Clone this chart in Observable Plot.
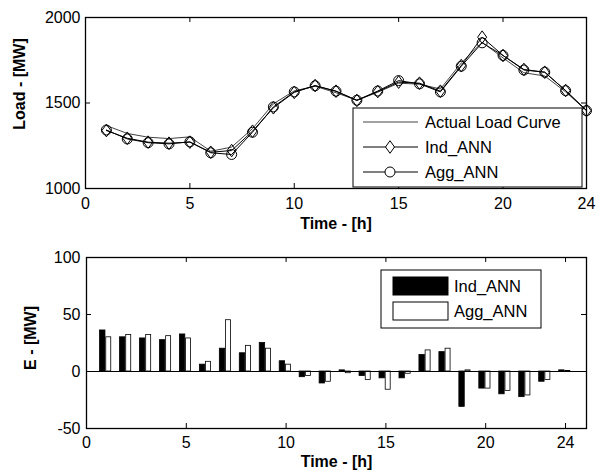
<!DOCTYPE html>
<html><head><meta charset="utf-8">
<script src="https://cdn.jsdelivr.net/npm/d3@7"></script>
<script src="https://cdn.jsdelivr.net/npm/@observablehq/plot@0.6"></script>
<style>
body{margin:0;background:#fff;}
#chart{width:601px;height:475px;}
#chart svg{display:block;overflow:visible;}
</style></head><body><div id="chart"></div>
<script>
const hours   = [1,2,3,4,5,6,7,8,9,10,11,12,13,14,15,16,17,18,19,20,21,22,23,24];
const actual  = [1368,1322,1300,1292,1302,1218,1242,1350,1495,1571,1598,1560,1516,1563,1616,1610,1582,1734,1855,1764,1677,1658,1565,1456];
const indANN  = [1339,1294,1271,1265,1271,1212,1222,1335,1472,1562,1602,1569,1515,1567,1622,1616,1569,1719,1885,1778,1696,1680,1573,1456];
const aggANN  = [1342,1290,1268,1261,1273,1209,1199,1329,1477,1565,1601,1569,1516,1570,1631,1612,1565,1715,1852,1778,1693,1680,1572,1455];
const errInd  = [36,30,29,27.5,32.5,6,20,16,25,9,-5,-10.5,1,-4,-6,-6,14.5,17,-31,-15,-20,-22.5,-9,1];
const errAgg  = [30,32,32,31,29,8.5,45,22.5,20,6,-4,-9,-1.5,-7.5,-16,-2,18.5,20,1,-15,-17,-21,-7.5,0.5];
const xTicksTop = [0,5,10,15,20,24];
const xTicksBot = [0,5,10,15,20,24];
const yTicksTop = [1000,1500,2000];
const yTicksBot = [-50,0,50,100];
const legendTop = ["Actual Load Curve","Ind_ANN","Agg_ANN"];
const legendBot = ["Ind_ANN","Agg_ANN"];

const rows = hours.map((h,i)=>({hour:h, actual:actual[i], ind:indANN[i], agg:aggANN[i], eInd:errInd[i], eAgg:errAgg[i]}));

const FONT = "'Liberation Sans', Arial, sans-serif";
const FS = 16;
const LFS = 16.5;
const tallDiamond = {draw(ctx, size){ const r = Math.sqrt(size/Math.PI); ctx.moveTo(0,-1.4*r); ctx.lineTo(r,0); ctx.lineTo(0,1.4*r); ctx.lineTo(-r,0); ctx.closePath(); }};

// ---- top chart
const TW = 601, TH = 237, tT = 17, tB = 49, tL = 85, tR = 15;
const tfh = TH - tT - tB, tfw = TW - tL - tR;
const topPlot = Plot.plot({
  width: TW, height: TH, marginTop: tT, marginBottom: tB, marginLeft: tL, marginRight: tR,
  style: {fontFamily: FONT, fontSize: FS + "px", color: "black", background: "white", overflow: "visible"},
  x: {domain: [0,24], label: null},
  y: {domain: [1000,2000], label: null},
  marks: [
    Plot.axisX(xTicksTop, {tickSize: 0, tickPadding: 9, fontSize: FS, label: null, tickFormat: d => String(d)}),
    Plot.axisY(yTicksTop, {tickSize: 0, tickPadding: 5, fontSize: FS, label: null, tickFormat: d => String(d)}),
    Plot.tickX(xTicksTop, {x: d=>d, insetTop: tfh-5, stroke: "black"}),
    Plot.tickX(xTicksTop, {x: d=>d, insetBottom: tfh-5, stroke: "black"}),
    Plot.tickY(yTicksTop, {y: d=>d, insetRight: tfw-5, stroke: "black"}),
    Plot.tickY(yTicksTop, {y: d=>d, insetLeft: tfw-5, stroke: "black"}),
    Plot.line(rows, {x: "hour", y: "actual", stroke: "#444", strokeWidth: 1}),
    Plot.line(rows, {x: "hour", y: "ind", stroke: "black", strokeWidth: 1}),
    Plot.line(rows, {x: "hour", y: "agg", stroke: "black", strokeWidth: 1}),
    Plot.dot(rows, {x: "hour", y: "ind", symbol: tallDiamond, r: 4.5, stroke: "black", fill: "none", strokeWidth: 1}),
    Plot.dot(rows, {x: "hour", y: "agg", symbol: "circle", r: 5, stroke: "black", fill: "none", strokeWidth: 1}),
    Plot.frame({stroke: "black", strokeWidth: 1.3}),
    Plot.text(["Time - [h]"], {text: d=>d, frameAnchor: "bottom", dy: 40, fontWeight: "bold", fontSize: FS}),
    Plot.text(["Load - [MW]"], {text: d=>d, frameAnchor: "left", textAnchor: "middle", rotate: -90, dx: -66, dy: -19, fontWeight: "bold", fontSize: FS})
  ]
});

// ---- bottom chart
const BH = 238, bT = 20, bB = 47, bL = 86, bR = 15;
const bfh = BH - bT - bB, bfw = TW - bL - bR;
const botPlot = Plot.plot({
  width: TW, height: BH, marginTop: bT, marginBottom: bB, marginLeft: bL, marginRight: bR,
  style: {fontFamily: FONT, fontSize: FS + "px", color: "black", background: "white", overflow: "visible"},
  x: {domain: [0,25.05], label: null},
  y: {domain: [-50,100], label: null},
  marks: [
    Plot.axisX(xTicksBot, {tickSize: 0, tickPadding: 8, fontSize: FS, label: null, tickFormat: d => String(d)}),
    Plot.axisY(yTicksBot, {tickSize: 0, tickPadding: 6, fontSize: FS, label: null, tickFormat: d => String(d)}),
    Plot.tickX(xTicksBot, {x: d=>d, insetTop: bfh-5, stroke: "black"}),
    Plot.tickX(xTicksBot, {x: d=>d, insetBottom: bfh-5, stroke: "black"}),
    Plot.tickY(yTicksBot, {y: d=>d, insetRight: bfw-5, stroke: "black"}),
    Plot.tickY(yTicksBot, {y: d=>d, insetLeft: bfw-5, stroke: "black"}),
    Plot.rect(rows, {x1: d=>d.hour-0.32, x2: d=>d.hour-0.05, y1: 0, y2: "eInd", fill: "black", stroke: "black", strokeWidth: 0.8}),
    Plot.rect(rows, {x1: d=>d.hour-0.01, x2: d=>d.hour+0.24, y1: 0, y2: "eAgg", fill: "white", stroke: "black", strokeWidth: 0.8}),
    Plot.ruleY([0], {stroke: "black", strokeWidth: 1}),
    Plot.frame({stroke: "black", strokeWidth: 1.3}),
    Plot.text(["Time - [h]"], {text: d=>d, frameAnchor: "bottom", dy: 38, fontWeight: "bold", fontSize: FS}),
    Plot.text(["E - [MW]"], {text: d=>d, frameAnchor: "left", textAnchor: "middle", rotate: -90, dx: -56, dy: -5, fontWeight: "bold", fontSize: FS})
  ]
});

const chart = document.getElementById("chart");
chart.appendChild(topPlot);
chart.appendChild(botPlot);

// ---- legends
{
  const svg = d3.select(topPlot);
  const g = svg.append("g").attr("font-family", FONT).attr("font-size", LFS).attr("text-anchor", "start");
  g.append("rect").attr("x", 353).attr("y", 108).attr("width", 229).attr("height", 79)
    .attr("fill", "white").attr("stroke", "black").attr("stroke-width", 1);
  const ys = [122, 147, 172];
  legendTop.forEach((name, i) => {
    const y = ys[i];
    g.append("line").attr("x1", 363).attr("x2", 418).attr("y1", y).attr("y2", y)
      .attr("stroke", i === 0 ? "#444" : "black").attr("stroke-width", 1);
    if (i === 1) {
      const r = 4.5;
      g.append("path").attr("d", `M390,${y-1.4*r}L${390+r},${y}L390,${y+1.4*r}L${390-r},${y}Z`)
        .attr("fill", "white").attr("stroke", "black");
    }
    if (i === 2) g.append("circle").attr("cx", 390).attr("cy", y).attr("r", 5).attr("fill", "white").attr("stroke", "black");
    g.append("text").attr("x", 425).attr("y", y).attr("dy", "0.35em").attr("text-anchor", "start").text(name);
  });
}
{
  const svg = d3.select(botPlot);
  const g = svg.append("g").attr("font-family", FONT).attr("font-size", LFS).attr("text-anchor", "start");
  g.append("rect").attr("x", 381).attr("y", 33).attr("width", 160).attr("height", 58)
    .attr("fill", "white").attr("stroke", "black").attr("stroke-width", 1);
  const ys = [49, 74];
  const fills = ["black", "white"];
  legendBot.forEach((name, i) => {
    g.append("rect").attr("x", 393).attr("y", ys[i]-9).attr("width", 55).attr("height", 18)
      .attr("fill", fills[i]).attr("stroke", "black");
    g.append("text").attr("x", 454).attr("y", ys[i]).attr("dy", "0.35em").attr("text-anchor", "start").text(name);
  });
}
</script></body></html>
